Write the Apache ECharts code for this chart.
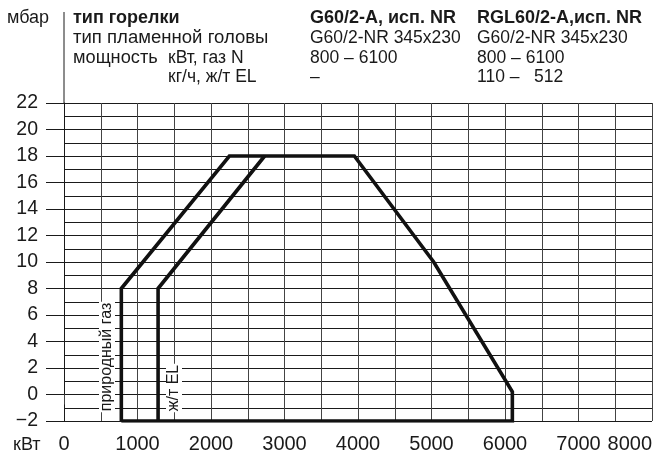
<!DOCTYPE html>
<html>
<head>
<meta charset="utf-8">
<script src="https://cdn.jsdelivr.net/npm/echarts@6/dist/echarts.min.js"></script>
<style>
  html, body { margin: 0; padding: 0; background: #fff; }
  #chart { width: 666px; height: 454px; }
</style>
</head>
<body>
<div id="chart"></div>
<script>
// рабочее поле горелки: природный газ (внешний контур)
const gasPowerKW = [780, 780, 2250, 3950, 5030, 6100, 6100, 780];
const gasPressure = [-2, 8, 18, 18, 10, 0.2, -2, -2];
// жидкое топливо EL (левая граница)
const oilPowerKW = [1280, 1280, 2730];
const oilPressure = [-2, 8, 18];

// заголовок таблицы
const headerLeft = ["тип пламенной головы", "мощность"];
const headerMid = ["кВт, газ N", "кг/ч, ж/т EL"];
const headerCol1 = ["G60/2-A, исп. NR", "G60/2-NR 345x230", "800 – 6100", "–"];
const headerCol2 = ["RGL60/2-A,исп. NR", "G60/2-NR 345x230", "800 – 6100", "110 –   512"];

const zip = (xs, ys) => xs.map((x, i) => [x, ys[i]]);

const FONT = "'Liberation Sans', Arial, sans-serif";
const INK = "#1a1a1a";
const REG = "17.5px " + FONT;
const BOLD = "bold 18px " + FONT;

const txt = (x, y, text, font, scaleX) => ({
  type: "text",
  x: x,
  y: y,
  scaleX: scaleX || 1,
  style: {
    text: text,
    fill: INK,
    font: font || REG,
    verticalAlign: "middle",
  },
});

const rowY = [18, 38, 58, 77];

const graphics = [
  // продолжение оси давления вверх
  { type: "line", shape: { x1: 64, y1: 12, x2: 64, y2: 103 }, style: { stroke: INK, lineWidth: 1 } },
  txt(7, rowY[0], "мбар", "18px " + FONT),
  txt(73, rowY[0], "тип горелки", BOLD),
  txt(73, rowY[1], headerLeft[0], REG, 1.06),
  txt(73, rowY[2], headerLeft[1], REG, 1.04),
  txt(168, rowY[2], headerMid[0], REG),
  txt(168, rowY[3], headerMid[1], REG),
  txt(13, 445, "кВт", "18px " + FONT),
  // подписи вдоль вертикальных границ
  {
    type: "text", x: 107, y: 357, rotation: Math.PI / 2, z: 20,
    style: { text: "природный газ", font: "16px " + FONT, fill: INK, align: "center", verticalAlign: "middle", backgroundColor: "#fff", padding: [0, 1] },
  },
  {
    type: "text", x: 174, y: 388, rotation: Math.PI / 2, z: 20,
    style: { text: "ж/т EL", font: "16px " + FONT, fill: INK, align: "center", verticalAlign: "middle", backgroundColor: "#fff", padding: [0, 1] },
  },
];

headerCol1.forEach((t, i) => graphics.push(txt(310, rowY[i], t, i === 0 ? BOLD : REG)));
headerCol2.forEach((t, i) => graphics.push(txt(477, rowY[i], t, i === 0 ? BOLD : REG)));

const chart = echarts.init(document.getElementById("chart"));

chart.setOption({
  animation: false,
  backgroundColor: "#fff",
  grid: { left: 64, right: 14, top: 103, bottom: 32 },
  xAxis: {
    type: "value",
    min: 0,
    max: 8000,
    interval: 1000,
    axisLine: { show: true, lineStyle: { color: INK, width: 1 } },
    axisTick: { show: true, length: 10, lineStyle: { color: "#444", width: 1 } },
    axisLabel: {
      margin: 13, fontSize: 20, color: INK, fontFamily: FONT,
      alignMaxLabel: "right",
      formatter: (v) => String(v),
    },
    splitLine: { show: true, lineStyle: { color: "#444", width: 1 } },
    minorTick: { show: false, splitNumber: 2 },
    minorSplitLine: { show: true, lineStyle: { color: "#444", width: 1 } },
  },
  yAxis: {
    type: "value",
    min: -2,
    max: 22,
    interval: 2,
    axisLine: { show: true, lineStyle: { color: INK, width: 1 } },
    axisTick: { show: true, length: 18, lineStyle: { color: INK, width: 1 } },
    axisLabel: {
      margin: 26, fontSize: 19.5, color: INK, fontFamily: FONT,
      formatter: (v) => (v < 0 ? "\u2212" + Math.abs(v) : String(v)),
    },
    splitLine: { show: true, lineStyle: { color: INK, width: 1 } },
    minorTick: { show: false, splitNumber: 2 },
    minorSplitLine: { show: true, lineStyle: { color: INK, width: 1 } },
  },
  series: [
    {
      name: "природный газ",
      type: "line",
      data: zip(gasPowerKW, gasPressure),
      symbol: "none",
      z: 10,
      lineStyle: { color: "#111", width: 3.6, join: "miter" },
    },
    {
      name: "ж/т EL",
      type: "line",
      data: zip(oilPowerKW, oilPressure),
      symbol: "none",
      z: 10,
      lineStyle: { color: "#111", width: 3.6, join: "miter" },
    },
  ],
  graphic: graphics,
});
</script>
</body>
</html>
